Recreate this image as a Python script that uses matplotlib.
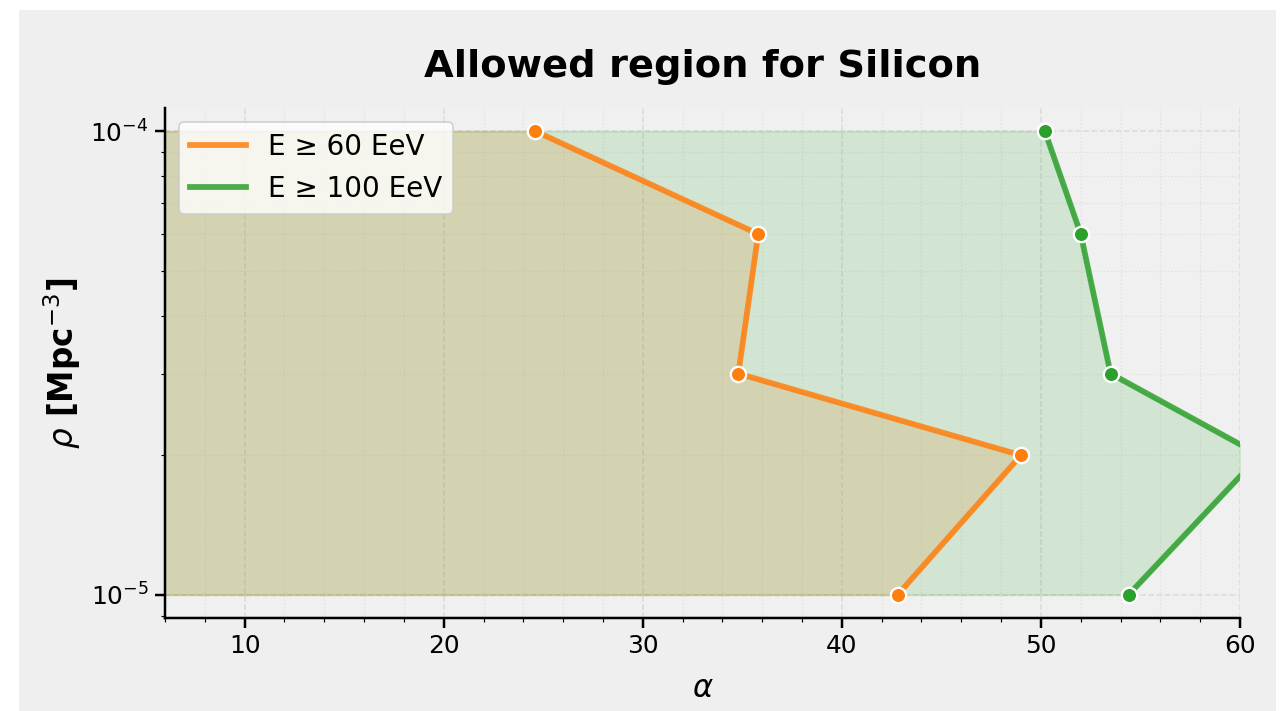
import matplotlib
matplotlib.use('Agg')
import matplotlib.pyplot as plt
from matplotlib.patches import Rectangle
import numpy as np

rho = [1e-4, 6e-5, 3e-5, 2e-5, 1e-5]
alpha_60 = [24.6, 35.8, 34.8, 49.0, 42.8]
alpha_100 = [50.2, 52.0, 53.5, 61.0, 54.4]
labels = ['E ≥ 60 EeV', 'E ≥ 100 EeV']
colors = ['#ff7f0e', '#2ca02c']

dpi = 138
fig, ax = plt.subplots(figsize=(1283 / dpi, 711 / dpi), dpi=dpi)
fig.patch.set_facecolor('white')
fig.patches.append(Rectangle((20 / 1283, 0), 1255 / 1283, 700 / 711,
                             transform=fig.transFigure, color='#efefef', zorder=-10))
ax.set_facecolor('#f0f0f0')

for xs, lab, c, fa in zip([alpha_60, alpha_100], labels, colors, [0.17, 0.15]):
    ax.fill_betweenx(rho, 0, xs, color=c, alpha=fa, linewidth=1)
    ax.plot(xs, rho, color=c, lw=3, alpha=0.85, label=lab)
    ax.plot(xs, rho, 'o', color=c, ms=8, mec='white', mew=1.2, ls='none')

ax.set_yscale('log')
ax.set_xlim(6, 60)
ax.set_ylim(10 ** -5.05, 10 ** -3.95)
ax.minorticks_on()
ax.grid(which='major', ls='--', color='#dadada', lw=0.8)
ax.grid(which='minor', ls=':', color='#e0e0e0', lw=0.7)
ax.set_axisbelow(True)
for s in ['top', 'right']:
    ax.spines[s].set_visible(False)
ax.spines['left'].set_linewidth(1.3)
ax.spines['bottom'].set_linewidth(1.3)
ax.tick_params(labelsize=13)
ax.tick_params(which='major', length=5, width=1.3)

ax.set_title('Allowed region for Silicon', fontsize=20, fontweight='bold', pad=16)
ax.set_xlabel(r'$\alpha$', fontsize=16, labelpad=8)
ax.set_ylabel(r'$\rho$ [Mpc$^{-3}$]', fontsize=17, fontweight='bold', labelpad=4)
ax.legend(loc='upper left', fontsize=14.5, framealpha=0.8)

fig.subplots_adjust(left=165 / 1283, right=1240 / 1283, top=1 - 108 / 711, bottom=1 - 618 / 711)
fig.savefig('out.png', dpi=dpi)
